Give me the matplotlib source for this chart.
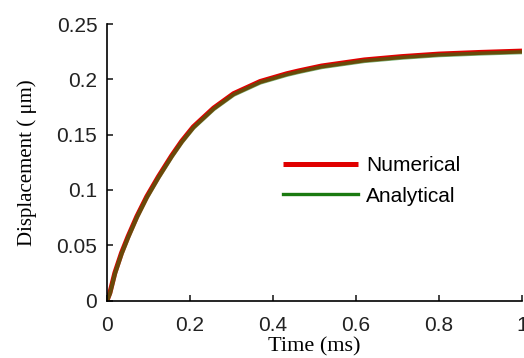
import matplotlib
matplotlib.use("Agg")
import matplotlib.pyplot as plt

# values
time_ms = [0.0, 0.007, 0.019, 0.035, 0.051, 0.072, 0.096, 0.124, 0.156, 0.180,
           0.208, 0.257, 0.305, 0.369, 0.433, 0.461, 0.517, 0.62, 0.71, 0.80,
           0.90, 1.0]
numerical = [0.0, 0.007, 0.025, 0.043, 0.058, 0.076, 0.094, 0.112, 0.131, 0.144,
             0.157, 0.174, 0.187, 0.198, 0.205, 0.2075, 0.212, 0.2175, 0.2205,
             0.2228, 0.2243, 0.2255]
analytical = [0.0, 0.006, 0.024, 0.042, 0.057, 0.075, 0.093, 0.111, 0.130, 0.143,
              0.156, 0.173, 0.186, 0.197, 0.204, 0.2065, 0.211, 0.2165, 0.2195,
              0.2218, 0.2233, 0.2245]

xticks = [0, 0.2, 0.4, 0.6, 0.8, 1]
xticklabels = ['0', '0.2', '0.4', '0.6', '0.8', '1']
yticks = [0, 0.05, 0.1, 0.15, 0.2, 0.25]
yticklabels = ['0', '0.05', '0.1', '0.15', '0.2', '0.25']

plt.rcParams['font.family'] = ['Liberation Sans', 'DejaVu Sans']

fig = plt.figure(figsize=(5.24, 3.58), dpi=100)
ax = fig.add_axes([107 / 524, 57.5 / 358, 415 / 524, 276.5 / 358])

ax.plot(time_ms, numerical, color='#e00000', lw=3.6, label='Numerical',
        solid_capstyle='butt', solid_joinstyle='round')
ax.plot(time_ms, analytical, color='#1a7a10', lw=3.0, alpha=0.6,
        solid_capstyle='butt', solid_joinstyle='round')
# legend proxy for the analytical line
ax.plot([], [], color='#1a7a10', lw=2.4, label='Analytical')

ax.set_xlim(0, 1)
ax.set_ylim(0, 0.25)
ax.set_xticks(xticks)
ax.set_xticklabels(xticklabels)
ax.set_yticks(yticks)
ax.set_yticklabels(yticklabels)

for side in ['top', 'right']:
    ax.spines[side].set_visible(False)
for side in ['left', 'bottom']:
    ax.spines[side].set_linewidth(1.2)

ax.tick_params(direction='in', length=4, width=1.2, labelsize=15,
               colors='#222222')
ax.tick_params(axis='x', pad=11)
ax.tick_params(axis='y', pad=7)

ax.set_xlabel('Time (ms)', family=['Liberation Serif', 'DejaVu Serif'],
              fontsize=16, labelpad=1.5)
ax.set_ylabel('Displacement ( \u03bcm)', family=['Liberation Serif', 'DejaVu Serif'],
              fontsize=15, labelpad=14)

ax.legend(loc='center left', bbox_to_anchor=(283 / 524, 1 - 181 / 358),
          bbox_transform=fig.transFigure, frameon=False, fontsize=15,
          handlelength=3.6, handletextpad=0.4, labelspacing=0.55,
          borderpad=0, borderaxespad=0)

fig.savefig('out.png', dpi=100)
